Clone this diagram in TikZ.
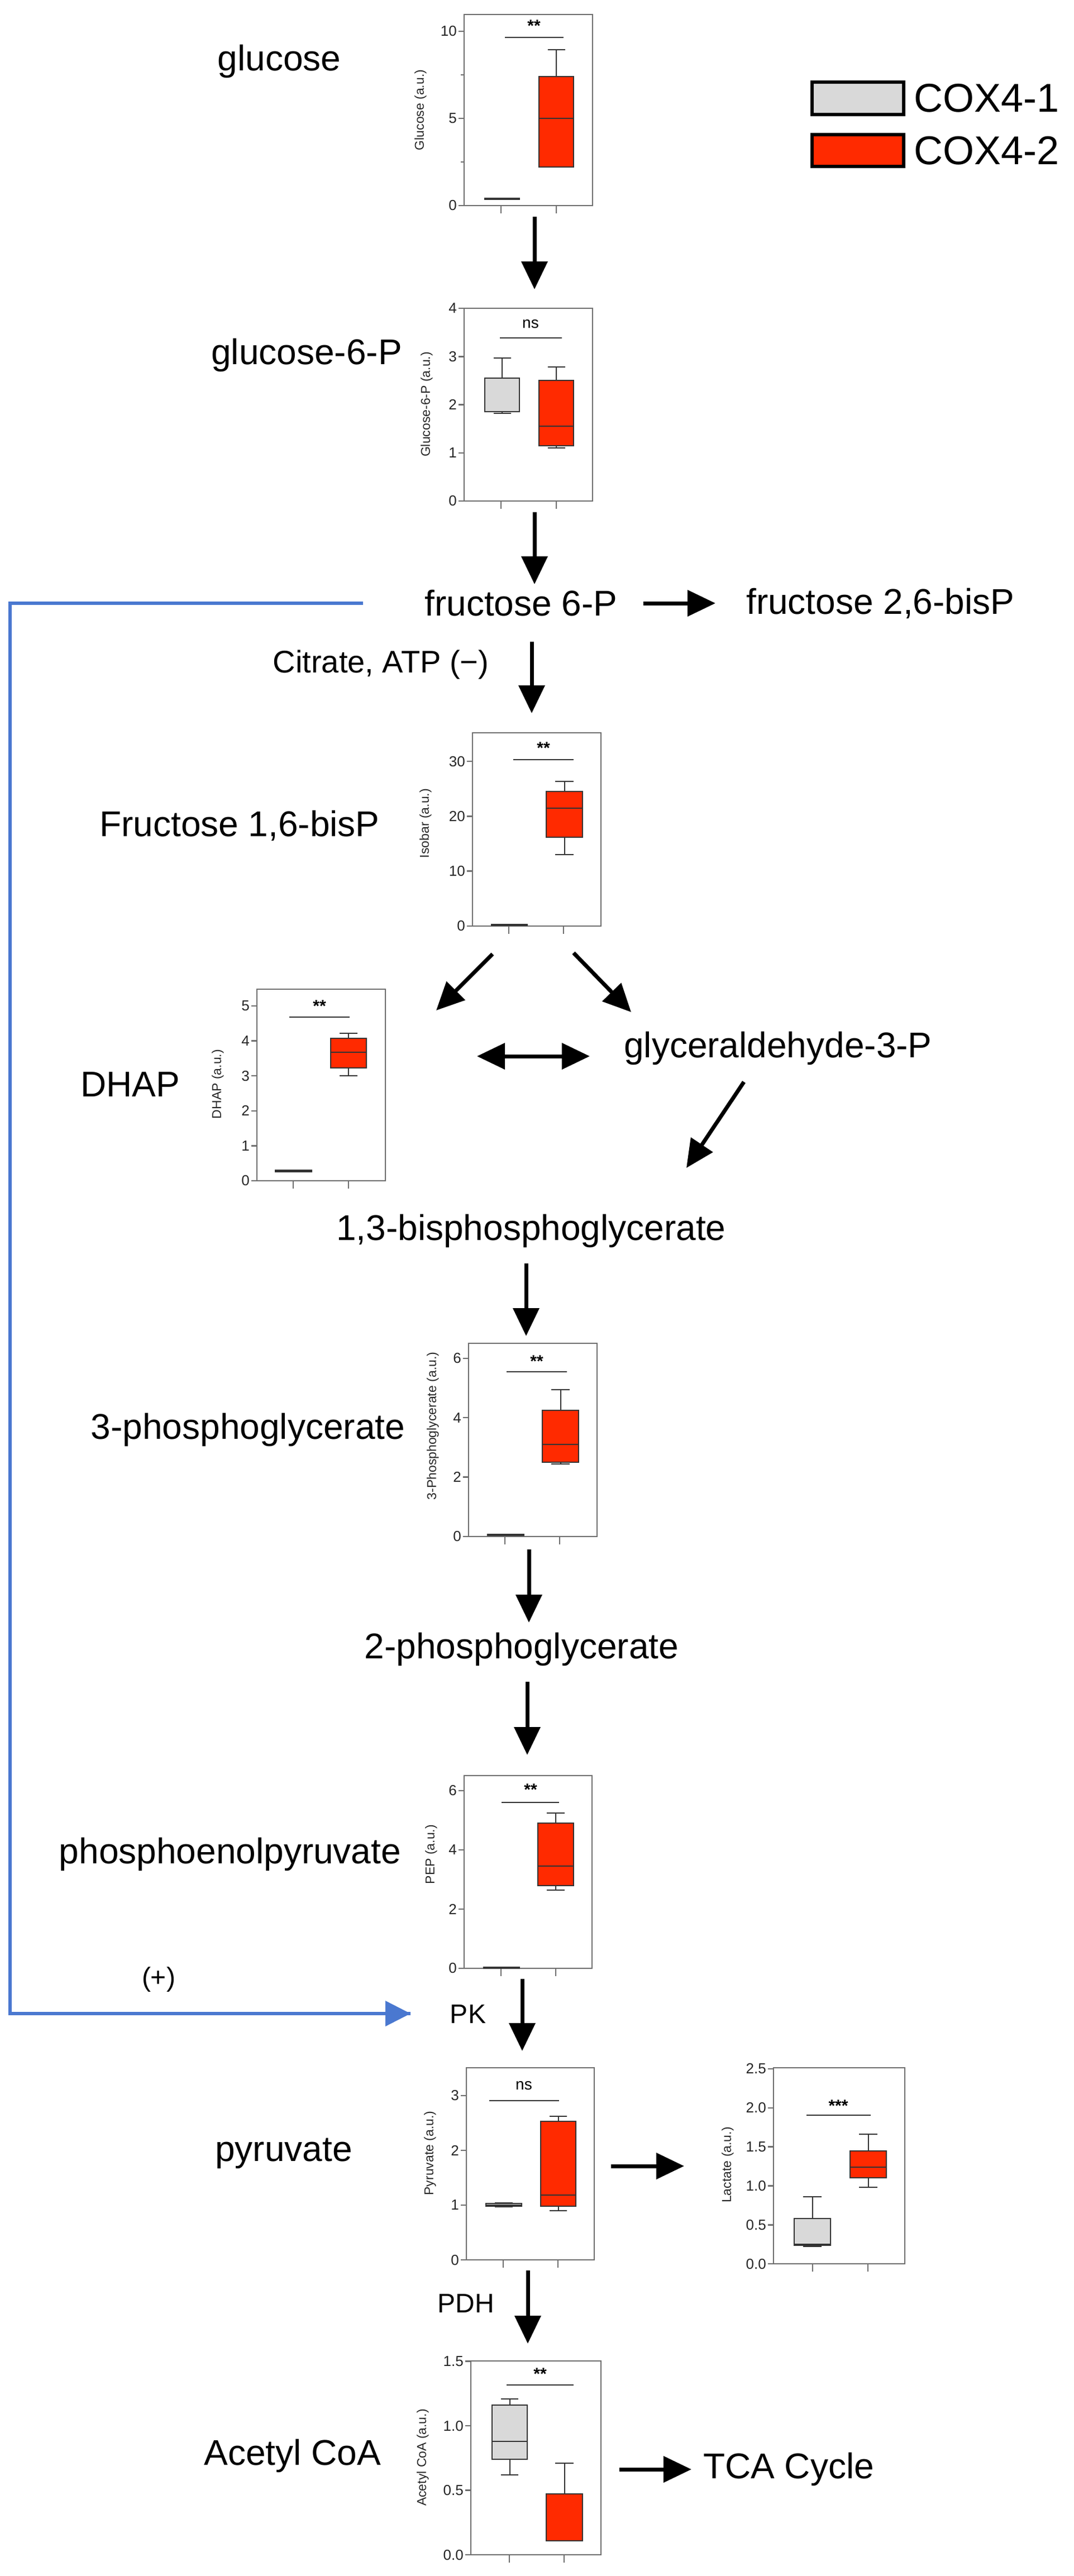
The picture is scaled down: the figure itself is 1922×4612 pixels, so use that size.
\documentclass[tikz,border=0pt]{standalone}
\usepackage{fontspec}
\setmainfont{Liberation Sans}
\usetikzlibrary{arrows.meta}
\definecolor{bred}{HTML}{FF2A00}
\definecolor{bgray}{HTML}{D9D9D9}
\definecolor{fgray}{HTML}{6E6E6E}
\definecolor{bblue}{HTML}{4A78D0}
\newcommand\axset[2]{\def\pB{#1}\def\pU{#2}}
\newcommand\bxp[8]{%
 \pgfmathsetmacro\xm{(#1+#2)/2}\pgfmathsetmacro\cw{(#2-#1)/4}%
 \draw[bxline] (\xm,{\pB-\pU*(#6)}) -- (\xm,{\pB-\pU*(#7)});
 \draw[bxline] ({\xm-\cw},{\pB-\pU*(#6)}) -- ({\xm+\cw},{\pB-\pU*(#6)});
 \draw[bxline] ({\xm-\cw},{\pB-\pU*(#7)}) -- ({\xm+\cw},{\pB-\pU*(#7)});
 \draw[bxline,fill=#8] (#1,{\pB-\pU*(#3)}) rectangle (#2,{\pB-\pU*(#4)});
 \draw[bxline] (#1,{\pB-\pU*(#5)}) -- (#2,{\pB-\pU*(#5)});
}
\newcommand\pfr[6]{% L T R B xt1 xt2
 \draw[frm] (#1,#2) rectangle (#3,#4);
 \draw[frm] (#5,#4) -- ++(0,14);
 \draw[frm] (#6,#4) -- ++(0,14);
}
\begin{document}
\begin{tikzpicture}[x=1pt,y=-1pt,
  lbl/.style={font=\fontsize{64}{70}\selectfont,inner sep=0pt},
  small/.style={font=\fontsize{48}{54}\selectfont,inner sep=0pt},
  tickf/.style={font=\fontsize{26}{28}\selectfont,inner sep=2pt,text=black!85},
  axl/.style={font=\fontsize{23}{26}\selectfont,inner sep=0pt,rotate=90,text=black!85},
  sigt/.style={font=\bfseries\fontsize{30}{30}\selectfont,inner sep=0pt},
  frm/.style={draw=fgray,line width=2.5pt},
  bxline/.style={draw=black!80,line width=2pt},
  sigl/.style={draw=black!80,line width=2pt},
  arr/.style={line width=7pt,-{Triangle[length=50pt,width=46pt]}},
  darr/.style={line width=7pt,{Triangle[length=50pt,width=46pt]}-{Triangle[length=50pt,width=46pt]}},
  blu/.style={draw=bblue,line width=6pt}]
\useasboundingbox (0,0) rectangle (1922,4612);
\fill[white] (0,0) rectangle (1922,4612);

% Legend
\draw[line width=6pt,fill=bgray] (1454,147) rectangle (1618,205);
\draw[line width=6pt,fill=bred] (1454,241) rectangle (1618,298);
\node[font=\fontsize{72}{76}\selectfont,anchor=west,inner sep=0pt] (leg1) at (1636,176) {COX4-1};
\node[font=\fontsize{72}{76}\selectfont,anchor=west,inner sep=0pt] (leg2) at (1636,270) {COX4-2};

% Labels
\node[lbl] (glc) at (500,110) {glucose};
\node[lbl] (g6p) at (549,636) {glucose-6-P};
\node[lbl] (f6p) at (933,1080) {fructose 6-P};
\node[lbl,anchor=west] (f26) at (1336,1080) {fructose 2,6-bisP};
\node[font=\fontsize{56}{60}\selectfont,inner sep=0pt] (cit) at (682,1190) {Citrate, ATP (−)};
\node[lbl] (f16) at (429,1478) {Fructose 1,6-bisP};
\node[lbl] (dhap) at (233,1941) {DHAP};
\node[lbl] (gap) at (1393,1877) {glyceraldehyde-3-P};
\node[lbl] (bpg) at (951,2204) {1,3-bisphosphoglycerate};
\node[lbl] (pg3) at (444,2560) {3-phosphoglycerate};
\node[lbl] (pg2) at (934,2953) {2-phosphoglycerate};
\node[lbl] (pep) at (412,3320) {phosphoenolpyruvate};
\node[small] (plus) at (284,3544) {(+)};
\node[small] (pk) at (838,3606) {PK};
\node[lbl] (pyr) at (508,3855) {pyruvate};
\node[small] (pdh) at (834,4124) {PDH};
\node[lbl] (acoa) at (524,4397) {Acetyl CoA};
\node[lbl,anchor=west] (tca) at (1259,4421) {TCA Cycle};

% Plot 1 Glucose
\axset{368}{31.2}
\pfr{831}{26}{1061}{368}{897}{996}
\foreach \v/\t in {0/0,5/5,10/10}{\draw[frm] (831,{\pB-\pU*\v}) -- ++(-10,0) node[left,tickf]{\t};}
\foreach \v in {2.5,7.5}{\draw[frm] (831,{\pB-\pU*\v}) -- ++(-6,0);}
\bxp{868}{930}{0.35}{0.42}{0.4}{0.35}{0.42}{bgray}
\bxp{965}{1027}{2.2}{7.4}{5.0}{2.2}{8.95}{bred}
\draw[sigl] (904,67) -- (1009,67);
\node[sigt] (s1) at (956,46) {**};
\node[axl] (a1) at (753,197) {Glucose (a.u.)};

% Plot 2 G6P
\axset{897}{86.25}
\pfr{831}{552}{1061}{897}{897}{996}
\foreach \v in {0,1,2,3,4}{\draw[frm] (831,{\pB-\pU*\v}) -- ++(-10,0) node[left,tickf]{\v};}
\bxp{868}{930}{1.85}{2.55}{1.85}{1.82}{2.97}{bgray}
\bxp{965}{1027}{1.15}{2.5}{1.55}{1.1}{2.78}{bred}
\draw[sigl] (895,605) -- (1006,605);
\node[font=\fontsize{28}{30}\selectfont,inner sep=0pt] (s2) at (950,580) {ns};
\node[axl] (a2) at (764,724) {Glucose-6-P (a.u.)};

% Plot 3 Isobar
\axset{1658}{9.83}
\pfr{846}{1312}{1076}{1658}{911}{1009}
\foreach \v in {0,10,20,30}{\draw[frm] (846,{\pB-\pU*\v}) -- ++(-10,0) node[left,tickf]{\v};}
\bxp{880}{944}{0.1}{0.3}{0.2}{0.1}{0.3}{bgray}
\bxp{978}{1043}{16.2}{24.5}{21.5}{13}{26.3}{bred}
\draw[sigl] (919,1360) -- (1027,1360);
\node[sigt] (s3) at (973,1339) {**};
\node[axl] (a3) at (762,1474) {Isobar (a.u.)};

% Plot 4 DHAP
\axset{2114}{62.6}
\pfr{460}{1771}{690}{2114}{525}{624}
\foreach \v in {0,1,2,3,4,5}{\draw[frm] (460,{\pB-\pU*\v}) -- ++(-10,0) node[left,tickf]{\v};}
\bxp{493}{558}{0.25}{0.3}{0.28}{0.25}{0.3}{bgray}
\bxp{592}{656}{3.22}{4.08}{3.68}{3.0}{4.22}{bred}
\draw[sigl] (518,1821) -- (626,1821);
\node[sigt] (s4) at (572,1801) {**};
\node[axl] (a4) at (390,1941) {DHAP (a.u.)};

% Plot 5 3PG
\axset{2751}{53.2}
\pfr{839}{2405}{1069}{2751}{904}{1002}
\foreach \v in {0,2,4,6}{\draw[frm] (839,{\pB-\pU*\v}) -- ++(-10,0) node[left,tickf]{\v};}
\bxp{873}{938}{0.03}{0.07}{0.05}{0.03}{0.07}{bgray}
\bxp{971}{1036}{2.5}{4.25}{3.1}{2.45}{4.95}{bred}
\draw[sigl] (907,2456) -- (1015,2456);
\node[sigt] (s5) at (961,2437) {**};
\node[axl] (a5) at (775,2553) {3-Phosphoglycerate (a.u.)};

% Plot 6 PEP
\axset{3524}{53}
\pfr{831}{3179}{1060}{3524}{897}{995}
\foreach \v in {0,2,4,6}{\draw[frm] (831,{\pB-\pU*\v}) -- ++(-10,0) node[left,tickf]{\v};}
\bxp{866}{930}{0.0}{0.03}{0.01}{0.0}{0.03}{bgray}
\bxp{963}{1027}{2.8}{4.9}{3.45}{2.65}{5.25}{bred}
\draw[sigl] (898,3227) -- (1001,3227);
\node[sigt] (s6) at (950,3204) {**};
\node[axl] (a6) at (772,3320) {PEP (a.u.)};

% Plot 7 Pyruvate
\axset{4046}{98}
\pfr{835}{3702}{1064}{4046}{901}{999}
\foreach \v in {0,1,2,3}{\draw[frm] (835,{\pB-\pU*\v}) -- ++(-10,0) node[left,tickf]{\v};}
\bxp{870}{934}{0.98}{1.03}{1.0}{0.97}{1.04}{bgray}
\bxp{968}{1031}{0.98}{2.53}{1.18}{0.9}{2.62}{bred}
\draw[sigl] (876,3761) -- (1001,3761);
\node[font=\fontsize{28}{30}\selectfont,inner sep=0pt] (s7) at (938,3734) {ns};
\node[axl] (a7) at (770,3855) {Pyruvate (a.u.)};

% Plot 8 Lactate
\axset{4053}{139.6}
\pfr{1385}{3702}{1620}{4053}{1455}{1554}
\foreach \v in {0.0,0.5,1.0,1.5,2.0,2.5}{\draw[frm] (1385,{\pB-\pU*\v}) -- ++(-10,0) node[left,tickf]{\v};}
\bxp{1422}{1487}{0.24}{0.58}{0.25}{0.22}{0.86}{bgray}
\bxp{1522}{1587}{1.1}{1.45}{1.24}{0.98}{1.66}{bred}
\draw[sigl] (1444,3787) -- (1559,3787);
\node[sigt] (s8) at (1501,3770) {***};
\node[axl] (a8) at (1303,3876) {Lactate (a.u.)};

% Plot 9 Acetyl CoA
\axset{4574}{231}
\pfr{843}{4227}{1076}{4574}{912}{1010}
\foreach \v in {0.0,0.5,1.0,1.5}{\draw[frm] (843,{\pB-\pU*\v}) -- ++(-10,0) node[left,tickf]{\v};}
\bxp{881}{944}{0.74}{1.16}{0.88}{0.62}{1.21}{bgray}
\bxp{978}{1043}{0.11}{0.47}{0.11}{0.11}{0.71}{bred}
\draw[sigl] (907,4270) -- (1027,4270);
\node[sigt] (s9) at (967,4250) {**};
\node[axl] (a9) at (757,4400) {Acetyl CoA (a.u.)};

% Arrow coordinates
\coordinate (c1a) at (957,388);  \coordinate (c1b) at (957,518);
\coordinate (c2a) at (957,917);  \coordinate (c2b) at (957,1046);
\coordinate (c3a) at (1152,1080); \coordinate (c3b) at (1281,1080);
\coordinate (c4a) at (952,1149); \coordinate (c4b) at (952,1277);
\coordinate (c5a) at (882,1708); \coordinate (c5b) at (781,1809);
\coordinate (c6a) at (1027,1706); \coordinate (c6b) at (1130,1812);
\coordinate (c7a) at (854,1891); \coordinate (c7b) at (1056,1891);
\coordinate (c8a) at (1332,1937); \coordinate (c8b) at (1229,2091);
\coordinate (c9a) at (942,2262); \coordinate (c9b) at (942,2392);
\coordinate (c10a) at (947,2774); \coordinate (c10b) at (947,2905);
\coordinate (c11a) at (944,3011); \coordinate (c11b) at (944,3142);
\coordinate (c12a) at (935,3543); \coordinate (c12b) at (935,3672);
\coordinate (c13a) at (1094,3878); \coordinate (c13b) at (1225,3878);
\coordinate (c14a) at (945,4065); \coordinate (c14b) at (945,4196);
\coordinate (c15a) at (1109,4421); \coordinate (c15b) at (1238,4421);
\foreach \i in {1,2,3,4,5,6,8,9,10,11,12,13,14,15}{\draw[arr] (c\i a) -- (c\i b);}
\draw[darr] (c7a) -- (c7b);

% Blue feedback
\coordinate (ba) at (650,1080);
\coordinate (bc1) at (18,1080);
\coordinate (bc2) at (18,3605);
\coordinate (bb) at (735,3605);
\draw[blu,line cap=butt] (ba) -- (bc1) -- (bc2) -- (bb);
\fill[bblue] (735,3605) -- (690,3582) -- (690,3628) -- cycle;
\end{tikzpicture}
\end{document}
